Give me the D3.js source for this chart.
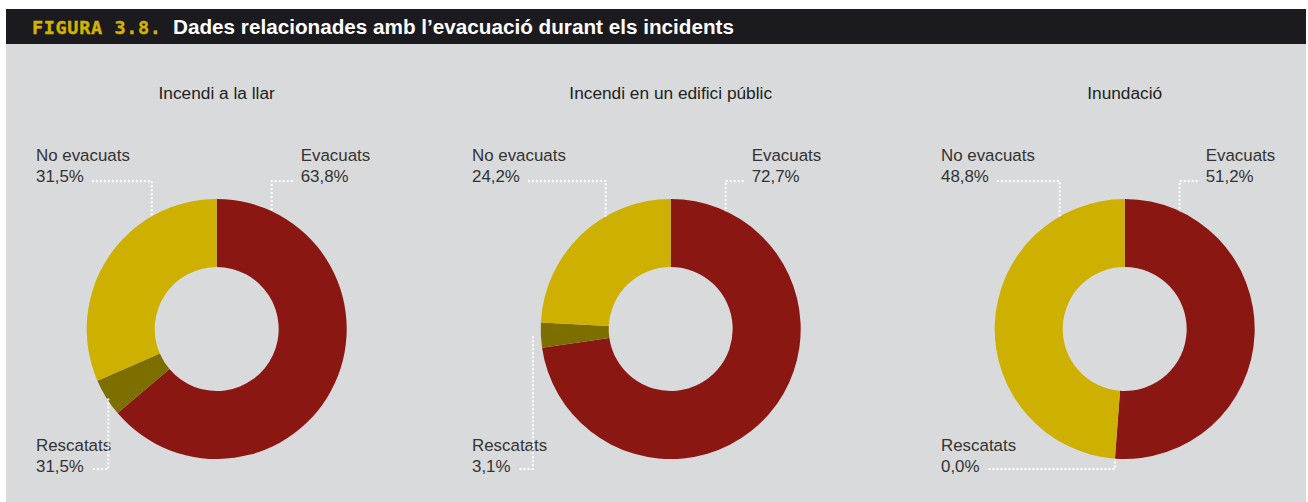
<!DOCTYPE html>
<html><head><meta charset="utf-8">
<script src="https://cdn.jsdelivr.net/npm/d3@7"></script>
<style>
html,body{margin:0;padding:0;background:#fff;}
svg{display:block;}
</style></head>
<body>
<svg id="chart" width="1308" height="502"></svg>
<script>
// ---- data ----
const charts = ["Incendi a la llar", "Incendi en un edifici públic", "Inundació"];
const categories = ["Evacuats", "Rescatats", "No evacuats"];
const evacuats = [63.8, 72.7, 51.2];
const rescatats = [4.7, 3.1, 0.0];          // slice sizes as drawn
const noEvacuats = [31.5, 24.2, 48.8];
const rescatatsPrinted = [31.5, 3.1, 0.0];  // values as printed in labels
const figureNumber = "FIGURA 3.8.";
const figureTitle = "Dades relacionades amb l’evacuació durant els incidents";

// ---- layout ----
const W = 1308, H = 502;
const colors = {"Evacuats":"#8b1713","Rescatats":"#7c6f00","No evacuats":"#ceb000"};
const cy = 329, R = 130, r = 62;
const leftLabelX = [36, 472, 941];
const rightLabelDX = [84, 81, 81];
const rescOffset = [2, -8, 0];
const fmt = v => d3.format(".1f")(v).replace(".", ",") + "%";
const font = "'Liberation Sans', Arial, sans-serif";

const svg = d3.select("#chart");
svg.append("rect").attr("x",6).attr("y",44).attr("width",1300).attr("height",H-44).attr("fill","#d9dadb");
svg.append("rect").attr("x",6).attr("y",9).attr("width",1300).attr("height",35).attr("fill","#1b1a1e");
svg.append("text").attr("x",32).attr("y",33.5).attr("fill","#d2b400")
  .attr("font-family","'DejaVu Sans Mono', monospace").attr("font-weight","bold")
  .attr("font-size",18.5).attr("stroke","#d2b400").attr("stroke-width",0.4)
  .attr("textLength",129).attr("lengthAdjust","spacing").text(figureNumber);
svg.append("text").attr("x",173).attr("y",34).attr("fill","#fff")
  .attr("font-family",font).attr("font-weight","bold").attr("font-size",20)
  .attr("textLength",561).attr("lengthAdjust","spacingAndGlyphs").text(figureTitle);

const xc = d3.scalePoint().domain(charts).range([216.7, 1124.7]);
const pie = d3.pie().sort(null).value(d => d.v);
const arc = d3.arc().innerRadius(r).outerRadius(R);

const dot = sel => sel.attr("fill","none").attr("stroke","#fff").attr("stroke-width",2).attr("stroke-dasharray","2,2");

charts.forEach((name, i) => {
  const cx = xc(name);
  const data = [
    {k:"Evacuats", v:evacuats[i], p:evacuats[i]},
    {k:"Rescatats", v:rescatats[i], p:rescatatsPrinted[i]},
    {k:"No evacuats", v:noEvacuats[i], p:noEvacuats[i]}
  ];
  const g = svg.append("g");
  g.append("text").attr("x",cx).attr("y",99).attr("text-anchor","middle")
    .attr("font-family",font).attr("font-size",17.3).attr("fill","#222").text(name);

  const dg = g.append("g").attr("transform",`translate(${cx},${cy})`);
  const arcs = pie(data);
  dg.selectAll("path").data(arcs).join("path").attr("d",arc).attr("fill",d=>colors[d.data.k]);

  const txt = (x,y,s) => g.append("text").attr("x",x).attr("y",y).attr("font-family",font)
      .attr("font-size",16.9).attr("fill","#333").text(s);

  // Evacuats (top right)
  const ex = cx + rightLabelDX[i];
  txt(ex, 160.5, "Evacuats");
  txt(ex, 181.5, fmt(data[0].p));
  const ea = 25*Math.PI/180;
  const epx = cx + R*Math.sin(ea), epy = cy - R*Math.cos(ea);
  g.append("path").call(dot).attr("d",`M${ex-8},181 H${epx} V${epy}`);

  // No evacuats (top left)
  const lx = leftLabelX[i];
  txt(lx, 160.5, "No evacuats");
  const t2 = txt(lx, 181.5, fmt(data[2].p));
  const w2 = t2.node().getComputedTextLength();
  const na = -30*Math.PI/180;
  const npx = cx + R*Math.sin(na), npy = cy - R*Math.cos(na);
  g.append("path").call(dot).attr("d",`M${lx+w2+8},181 H${npx} V${npy}`);

  // Rescatats (bottom left)
  txt(lx, 450.5, "Rescatats");
  const t3 = txt(lx, 472, fmt(data[1].p));
  const w3 = t3.node().getComputedTextLength();
  const ma = (arcs[1].startAngle + arcs[1].endAngle)/2;
  const rpx = cx + R*Math.sin(ma) + rescOffset[i], rpy = cy - R*Math.cos(ma);
  g.append("path").call(dot).attr("d",`M${lx+w3+9},469 H${rpx} V${rpy}`);
});
</script>
</body></html>
